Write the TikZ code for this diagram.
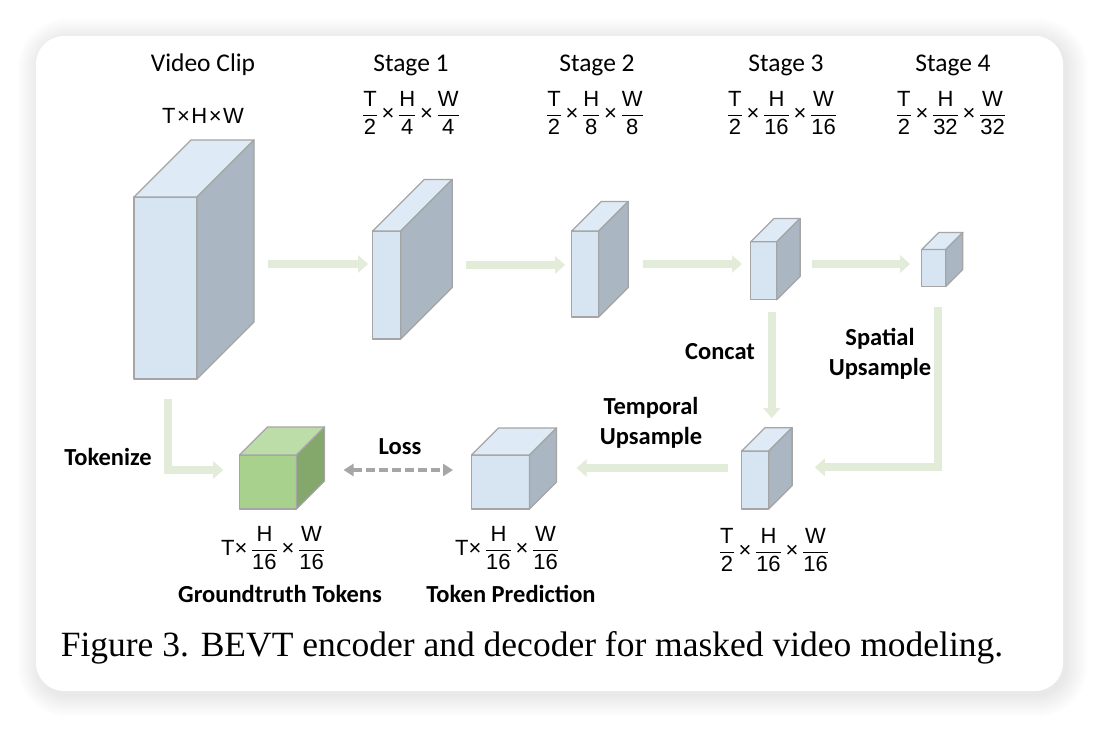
\documentclass[tikz,border=0pt]{standalone}
\usepackage{amsmath}
\usepackage{fontspec}
\setmainfont{Carlito}
\newfontfamily\dimfont{Liberation Sans}
\newfontfamily\capfont{Liberation Serif}
\usetikzlibrary{arrows.meta}

\definecolor{frontblue}{RGB}{215,229,242}
\definecolor{topblue}{RGB}{222,234,245}
\definecolor{sideblue}{RGB}{170,182,193}
\definecolor{frontgreen}{RGB}{169,209,142}
\definecolor{topgreen}{RGB}{188,220,168}
\definecolor{sidegreen}{RGB}{132,167,108}
\definecolor{edgegray}{RGB}{165,165,165}
\definecolor{flowgreen}{RGB}{226,236,216}
\definecolor{lossgray}{RGB}{166,166,166}

\newcommand\fr[2]{$\dfrac{\text{#1}}{\text{#2}}$}
\newcommand\cubefaces[4]{%
  \filldraw[edge,fill=#3] (#1.north west) -- ([shift={(#2,-#2)}]#1.north west)
    -- ([shift={(#2,-#2)}]#1.north east) -- (#1.north east) -- cycle;
  \filldraw[edge,fill=#4] (#1.north east) -- ([shift={(#2,-#2)}]#1.north east)
    -- ([shift={(#2,-#2)}]#1.south east) -- (#1.south east) -- cycle;}

\tikzset{
  edge/.style={draw=edgegray,line width=1.3pt,line join=round},
  box/.style={rectangle,edge,fill=frontblue,inner sep=0pt,outer sep=0pt},
  flow/.style={draw=flowgreen,line width=8pt,-{Triangle[length=10pt,width=17pt]}},
  lossline/.style={draw=lossgray,line width=3.5pt,dash pattern=on 9pt off 4pt,
                   {Triangle[length=10pt,width=12pt]}-{Triangle[length=10pt,width=12pt]}},
  lbl/.style={font=\fontsize{25.5}{29}\selectfont},
  op/.style={font=\bfseries\fontsize{24.5}{30}\selectfont,align=center},
  dims/.style={font=\dimfont\fontsize{22}{25}\selectfont,inner sep=0pt}
}

\begin{document}
\begin{tikzpicture}[x=1pt,y=-1pt]
  \useasboundingbox (0,0) rectangle (1100,728);
  \fill[white] (0,0) rectangle (1100,728);
  \foreach \i in {1,...,22}
    \fill[black,opacity=0.005,rounded corners=28+\i]
      (36-\i+3,36-\i+4) rectangle (1063+\i+3,691+\i+4);
  \fill[white,rounded corners=28] (36,36) rectangle (1063,691);

  \node[box,minimum width=63pt,minimum height=182pt] (clip) at (165.5,288) {};
  \node[box,minimum width=28pt,minimum height=108pt] (s1) at (386.7,285) {};
  \node[box,minimum width=27pt,minimum height=86pt]  (s2) at (585.2,274) {};
  \node[box,minimum width=26pt,minimum height=58pt]  (s3) at (763.7,270.8) {};
  \node[box,minimum width=24pt,minimum height=37pt]  (s4) at (933.8,268) {};
  \node[box,minimum width=27pt,minimum height=58pt]  (dec) at (755.3,480) {};
  \node[box,fill=frontgreen,minimum width=57pt,minimum height=54pt] (gt) at (268,482) {};
  \node[box,minimum width=58pt,minimum height=54pt]  (pred) at (500.5,482) {};
  \cubefaces{clip}{57}{topblue}{sideblue}
  \cubefaces{s1}{51.5}{topblue}{sideblue}
  \cubefaces{s2}{29.5}{topblue}{sideblue}
  \cubefaces{s3}{23.4}{topblue}{sideblue}
  \cubefaces{s4}{17}{topblue}{sideblue}
  \cubefaces{dec}{23.3}{topblue}{sideblue}
  \cubefaces{gt}{28}{topgreen}{sidegreen}
  \cubefaces{pred}{27}{topblue}{sideblue}

  \draw[flow] ([shift={(71,-24)}]clip.east) -- ([shift={(-4.7,-21)}]s1.west);
  \draw[flow] ([shift={(65.3,-20)}]s1.east) -- ([shift={(-6.7,-9)}]s2.west);
  \draw[flow] ([shift={(44.3,-10)}]s2.east) -- ([shift={(-8.7,-6.8)}]s3.west);
  \draw[flow] ([shift={(35,-6.8)}]s3.east) -- ([shift={(-11.7,-4)}]s4.west);
  \draw[flow] ([shift={(8,11.7)}]s3.south) -- ([shift={(16.4,-33)}]dec.north);
  \draw[flow] ([shift={(4.2,20)}]s4.south) |- ([shift={(46,-12.7)}]dec.east);
  \draw[flow] ([shift={(-13.7,-12)}]dec.west) -- ([shift={(47.1,-14)}]pred.east);
  \draw[flow] ([shift={(2.3,20)}]clip.south) |- ([shift={(-16.3,-12)}]gt.west);
  \draw[lossline] ([shift={(47,-12)}]gt.east) -- ([shift={(-18.5,-12)}]pred.west);

  \node[lbl] (tclip) at (203,65) {Video Clip};
  \node[dims] (dclip) at (203,116) {T\kern1.5pt×\kern1.5pt H\kern1.5pt×\kern1.5pt W};
  \node[lbl] (t1) at (411,65) {Stage 1};
  \node[dims] (d1) at (411,113) {\fr{T}{2}\,×\,\fr{H}{4}\,×\,\fr{W}{4}};
  \node[lbl] (t2) at (597,65) {Stage 2};
  \node[dims] (d2) at (595,113) {\fr{T}{2}\,×\,\fr{H}{8}\,×\,\fr{W}{8}};
  \node[lbl] (t3) at (786,65) {Stage 3};
  \node[dims] (d3) at (782,113) {\fr{T}{2}\,×\,\fr{H}{16}\,×\,\fr{W}{16}};
  \node[lbl] (t4) at (953,65) {Stage 4};
  \node[dims] (d4) at (951,113) {\fr{T}{2}\,×\,\fr{H}{32}\,×\,\fr{W}{32}};

  \node[op] (concat) at (720,352) {Concat};
  \node[op] (spatial) at (880,354) {Spatial\\Upsample};
  \node[op] (temporal) at (651,423) {Temporal\\Upsample};
  \node[op] (tok) at (108,457) {Tokenize};
  \node[op] (loss) at (400,447) {Loss};

  \node[dims] (dgt) at (273,548) {T×\,\fr{H}{16}\,×\,\fr{W}{16}};
  \node[op] (ngt) at (280,594) {Groundtruth Tokens};
  \node[dims] (dpred) at (507,548) {T×\,\fr{H}{16}\,×\,\fr{W}{16}};
  \node[op] (npred) at (511,594) {Token Prediction};
  \node[dims] (ddec) at (774,550) {\fr{T}{2}\,×\,\fr{H}{16}\,×\,\fr{W}{16}};

  \node[font=\capfont\fontsize{35.5}{40}\selectfont] (cap) at (532,648)
    {Figure 3. BEVT encoder and decoder for masked video modeling.};
\end{tikzpicture}
\end{document}
